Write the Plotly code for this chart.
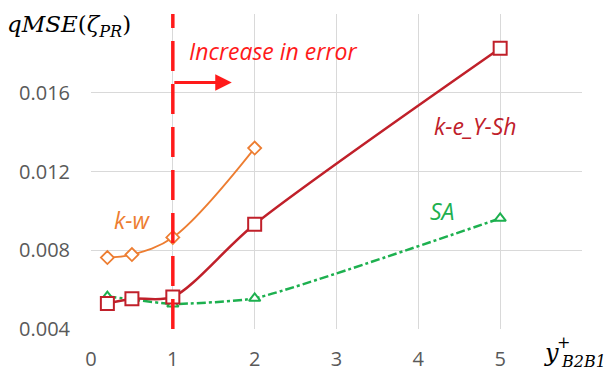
import plotly.graph_objects as go

# Data
x_kw = [0.2, 0.5, 1, 2]
y_kw = [0.00763, 0.00778, 0.00865, 0.01319]

x_ke = [0.2, 0.5, 1, 2, 5]
y_ke = [0.00529, 0.00554, 0.00563, 0.00932, 0.01826]

x_sa = [0.2, 0.5, 1, 2, 5]
y_sa = [0.00565, 0.00550, 0.00527, 0.00556, 0.00962]

x_ticks = [0, 1, 2, 3, 4, 5, 6]
x_ticktext = ["0", "1", "2", "3", "4", "5", ""]
y_ticks = [0.004, 0.008, 0.012, 0.016, 0.020]
y_ticktext = ["0.004", "0.008", "0.012", "0.016", ""]

ORANGE = "#ED7D31"
DARKRED = "#C0202A"
GREEN = "#1DB04F"
RED = "#FF1A1A"

L, R, T, B = 91, 24, 14, 45
W, H = 606, 374
pw, ph = W - L - R, H - T - B


def px(xp):
    return (xp - L) / pw


def py(yp):
    return (H - B - yp) / ph


fig = go.Figure()

fig.add_trace(go.Scatter(
    x=x_sa, y=y_sa, mode="lines+markers",
    line=dict(color=GREEN, width=2.5, dash="dashdot", shape="spline", smoothing=0.45),
    marker=dict(symbol="triangle-up", size=10, color="white", line=dict(color=GREEN, width=2)),
    showlegend=False))

fig.add_trace(go.Scatter(
    x=x_ke, y=y_ke, mode="lines+markers",
    line=dict(color=DARKRED, width=2.5, shape="spline", smoothing=0.8),
    marker=dict(symbol="square", size=13, color="white", line=dict(color=DARKRED, width=2)),
    showlegend=False))

fig.add_trace(go.Scatter(
    x=x_kw, y=y_kw, mode="lines+markers",
    line=dict(color=ORANGE, width=1.8, shape="spline", smoothing=1),
    marker=dict(symbol="diamond", size=10, color="white", line=dict(color=ORANGE, width=1.8)),
    showlegend=False))

# vertical dashed line at x=1
fig.add_shape(type="line", x0=1, x1=1, y0=0.004, y1=0.020, xref="x", yref="y",
              line=dict(color=RED, width=3.5, dash="30px,13px"), layer="above")

# arrow
fig.add_annotation(x=1.72, y=0.01652, ax=1.0, ay=0.01652, xref="x", yref="y",
                   axref="x", ayref="y", text="", showarrow=True,
                   arrowhead=2, arrowsize=1.1, arrowwidth=3, arrowcolor=RED)

fig.add_annotation(x=1.17, y=0.01814, xref="x", yref="y", xanchor="left",
                   text="<i>Increase in error</i>", showarrow=False,
                   font=dict(family="Open Sans", size=23, color=RED))
fig.add_annotation(x=0.5, y=0.00953, xref="x", yref="y",
                   text="<i>k-w</i>", showarrow=False,
                   font=dict(family="Open Sans", size=23, color=ORANGE))
fig.add_annotation(x=4.7, y=0.01429, xref="x", yref="y",
                   text="<i>k-e_Y-Sh</i>", showarrow=False,
                   font=dict(family="Open Sans", size=23, color=DARKRED))
fig.add_annotation(x=4.29, y=0.0100, xref="x", yref="y",
                   text="<i>SA</i>", showarrow=False,
                   font=dict(family="Open Sans", size=23, color=GREEN))

# axis titles
fig.add_annotation(x=px(5), y=py(26), xref="paper", yref="paper", xanchor="left", yanchor="middle",
                   text="<i>qMSE</i>(<i>ζ</i><sub><i>PR</i></sub>)", showarrow=False,
                   font=dict(family="DejaVu Serif", size=23, color="black"))
fig.add_annotation(x=px(542), y=py(353), xref="paper", yref="paper", xanchor="left", yanchor="middle",
                   showarrow=False,
                   text="<i>y</i>", font=dict(family="DejaVu Serif", size=24, color="black"))
fig.add_annotation(x=px(563), y=py(342), xref="paper", yref="paper", xanchor="center", yanchor="middle",
                   showarrow=False,
                   text="+", font=dict(family="DejaVu Serif", size=16, color="black"))
fig.add_annotation(x=px(559), y=py(361), xref="paper", yref="paper", xanchor="left", yanchor="middle",
                   showarrow=False,
                   text="<i>B2B1</i>", font=dict(family="DejaVu Serif", size=16, color="black"))

fig.update_layout(
    width=W, height=H,
    margin=dict(l=L, r=R, t=T, b=B),
    plot_bgcolor="white", paper_bgcolor="white",
    font=dict(family="Open Sans", size=20, color="#595959"),
    xaxis=dict(range=[0, 6], tickvals=x_ticks, ticktext=x_ticktext, automargin=False,
               showgrid=True, gridcolor="#D9D9D9", gridwidth=1, zeroline=False,
               showline=False, ticks="", ticklabelstandoff=16),
    yaxis=dict(range=[0.004, 0.020], tickvals=y_ticks, ticktext=y_ticktext, automargin=False,
               showgrid=True, gridcolor="#D9D9D9", gridwidth=1, zeroline=False,
               showline=False, ticks="", ticklabelstandoff=20),
)

fig.write_html("out.html")
